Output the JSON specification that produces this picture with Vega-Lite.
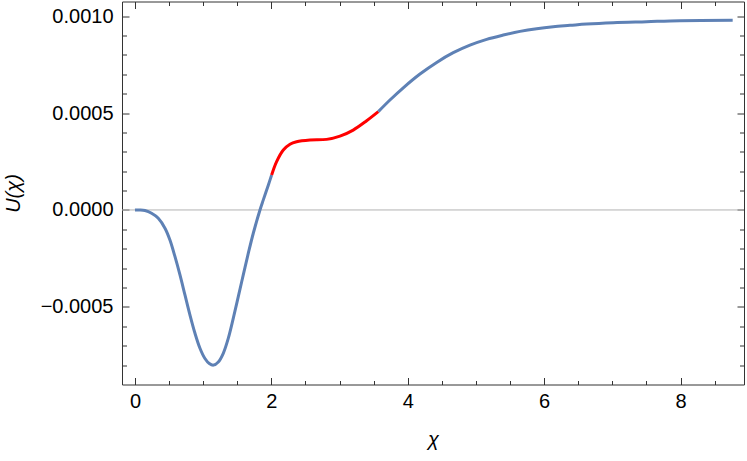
{
  "$schema": "https://vega.github.io/schema/vega-lite/v6.json",
  "width": 622,
  "height": 383,
  "autosize": {"type": "none"},
  "padding": {"left": 122, "top": 1.5, "right": 3, "bottom": 76.5},
  "config": {
    "view": {"stroke": null},
    "font": "Liberation Sans",
    "axis": {
      "grid": false,
      "domainColor": "#333333",
      "domainWidth": 1,
      "tickColor": "#333333",
      "tickWidth": 1,
      "labelColor": "#000000",
      "labelFontSize": 20,
      "labelFont": "Liberation Sans",
      "titleFont": "Liberation Sans",
      "titleFontSize": 20,
      "titleFontWeight": "normal",
      "titleFontStyle": "italic",
      "titleColor": "#000000",
      "labelFlush": false,
      "labelOverlap": false
    }
  },
  "datasets": {
    "curve": [
      {"x": 0, "u": 0, "seg": "a"},
      {"x": 0.07, "u": 0, "seg": "a"},
      {"x": 0.147, "u": -0.000003, "seg": "a"},
      {"x": 0.244, "u": -0.000017, "seg": "a"},
      {"x": 0.342, "u": -0.000043, "seg": "a"},
      {"x": 0.44, "u": -0.000094, "seg": "a"},
      {"x": 0.513, "u": -0.000155, "seg": "a"},
      {"x": 0.587, "u": -0.000241, "seg": "a"},
      {"x": 0.66, "u": -0.000335, "seg": "a"},
      {"x": 0.733, "u": -0.000438, "seg": "a"},
      {"x": 0.806, "u": -0.000541, "seg": "a"},
      {"x": 0.88, "u": -0.000636, "seg": "a"},
      {"x": 0.953, "u": -0.000713, "seg": "a"},
      {"x": 1.026, "u": -0.000766, "seg": "a"},
      {"x": 1.09, "u": -0.000792, "seg": "a"},
      {"x": 1.152, "u": -0.0008, "seg": "a"},
      {"x": 1.222, "u": -0.000784, "seg": "a"},
      {"x": 1.295, "u": -0.000739, "seg": "a"},
      {"x": 1.369, "u": -0.000661, "seg": "a"},
      {"x": 1.442, "u": -0.000558, "seg": "a"},
      {"x": 1.515, "u": -0.000447, "seg": "a"},
      {"x": 1.588, "u": -0.000335, "seg": "a"},
      {"x": 1.662, "u": -0.000223, "seg": "a"},
      {"x": 1.735, "u": -0.00012, "seg": "a"},
      {"x": 1.833, "u": 0, "seg": "a"},
      {"x": 1.882, "u": 0.000052, "seg": "a"},
      {"x": 1.955, "u": 0.000128, "seg": "a"},
      {"x": 2.004, "u": 0.00018, "seg": "a"},
      {"x": 2.004, "u": 0.00018, "seg": "b"},
      {"x": 2.077, "u": 0.000249, "seg": "b"},
      {"x": 2.175, "u": 0.000309, "seg": "b"},
      {"x": 2.273, "u": 0.000339, "seg": "b"},
      {"x": 2.37, "u": 0.000352, "seg": "b"},
      {"x": 2.566, "u": 0.000361, "seg": "b"},
      {"x": 2.81, "u": 0.000364, "seg": "b"},
      {"x": 3.006, "u": 0.000381, "seg": "b"},
      {"x": 3.2, "u": 0.000412, "seg": "b"},
      {"x": 3.397, "u": 0.00046, "seg": "b"},
      {"x": 3.568, "u": 0.000507, "seg": "b"},
      {"x": 3.568, "u": 0.000507, "seg": "c"},
      {"x": 3.739, "u": 0.000567, "seg": "c"},
      {"x": 3.934, "u": 0.00063, "seg": "c"},
      {"x": 4.179, "u": 0.000701, "seg": "c"},
      {"x": 4.424, "u": 0.000761, "seg": "c"},
      {"x": 4.667, "u": 0.000811, "seg": "c"},
      {"x": 4.912, "u": 0.00085, "seg": "c"},
      {"x": 5.157, "u": 0.00088, "seg": "c"},
      {"x": 5.4, "u": 0.000902, "seg": "c"},
      {"x": 5.645, "u": 0.000921, "seg": "c"},
      {"x": 5.89, "u": 0.000935, "seg": "c"},
      {"x": 6.133, "u": 0.000945, "seg": "c"},
      {"x": 6.378, "u": 0.000952, "seg": "c"},
      {"x": 6.623, "u": 0.000959, "seg": "c"},
      {"x": 7.013, "u": 0.000966, "seg": "c"},
      {"x": 7.5, "u": 0.000971, "seg": "c"},
      {"x": 7.991, "u": 0.000976, "seg": "c"},
      {"x": 8.764, "u": 0.000978, "seg": "c"}
    ]
  },
  "resolve": {"axis": {"x": "independent", "y": "independent"}},
  "layer": [
    {
      "data": {"values": [{"zero": 0}]},
      "mark": {"type": "rule", "color": "#b3b3b3", "strokeWidth": 1},
      "encoding": {
        "y": {"field": "zero", "type": "quantitative", "axis": null,
              "scale": {"domain": [-0.0009, 0.001075], "nice": false, "zero": false}}
      }
    },
    {
      "data": {"name": "curve"},
      "mark": {"type": "line", "opacity": 0},
      "encoding": {
        "x": {
          "field": "x", "type": "quantitative",
          "scale": {"domain": [-0.19, 8.93], "nice": false, "zero": false},
          "axis": {
            "orient": "bottom", "domain": false, "labels": false, "title": null,
            "values": [0.5, 1, 1.5, 2.5, 3, 3.5, 4.5, 5, 5.5, 6.5, 7, 7.5, 8.5],
            "tickSize": -4
          }
        },
        "y": {
          "field": "u", "type": "quantitative",
          "scale": {"domain": [-0.0009, 0.001075], "nice": false, "zero": false},
          "axis": {
            "orient": "left", "domain": false, "labels": false, "title": null,
            "values": [-0.0008, -0.0007, -0.0006, -0.0004, -0.0003, -0.0002, -0.0001, 0.0001, 0.0002, 0.0003, 0.0004, 0.0006, 0.0007, 0.0008, 0.0009],
            "tickSize": -4.5
          }
        }
      }
    },
    {
      "data": {"name": "curve"},
      "mark": {"type": "line", "opacity": 0},
      "encoding": {
        "x": {
          "field": "x", "type": "quantitative",
          "scale": {"domain": [-0.19, 8.93], "nice": false, "zero": false},
          "axis": {
            "orient": "top", "domain": false, "labels": false, "title": null,
            "values": [0.5, 1, 1.5, 2.5, 3, 3.5, 4.5, 5, 5.5, 6.5, 7, 7.5, 8.5],
            "tickSize": -4
          }
        },
        "y": {
          "field": "u", "type": "quantitative",
          "scale": {"domain": [-0.0009, 0.001075], "nice": false, "zero": false},
          "axis": {
            "orient": "right", "domain": false, "labels": false, "title": null,
            "values": [-0.0008, -0.0007, -0.0006, -0.0004, -0.0003, -0.0002, -0.0001, 0.0001, 0.0002, 0.0003, 0.0004, 0.0006, 0.0007, 0.0008, 0.0009],
            "tickSize": -4.5
          }
        }
      }
    },
    {
      "data": {"name": "curve"},
      "mark": {"type": "line", "opacity": 0},
      "encoding": {
        "x": {
          "field": "x", "type": "quantitative",
          "scale": {"domain": [-0.19, 8.93], "nice": false, "zero": false},
          "axis": {
            "orient": "top", "labels": false, "title": null,
            "values": [0, 2, 4, 6, 8],
            "tickSize": -7
          }
        },
        "y": {
          "field": "u", "type": "quantitative",
          "scale": {"domain": [-0.0009, 0.001075], "nice": false, "zero": false},
          "axis": {
            "orient": "right", "labels": false, "title": null,
            "values": [-0.0005, 0, 0.0005, 0.001],
            "tickSize": -7
          }
        }
      }
    },
    {
      "data": {"name": "curve"},
      "mark": {"type": "line", "strokeWidth": 3, "interpolate": "catmull-rom", "strokeCap": "butt"},
      "encoding": {
        "x": {
          "field": "x", "type": "quantitative",
          "scale": {"domain": [-0.19, 8.93], "nice": false, "zero": false},
          "axis": {
            "orient": "bottom",
            "values": [0, 2, 4, 6, 8],
            "format": ".0f",
            "tickSize": -7,
            "labelPadding": 14,
            "title": "χ",
            "titleX": 311,
            "titleY": 55,
            "titleBaseline": "middle",
            "titleAlign": "center"
          }
        },
        "y": {
          "field": "u", "type": "quantitative",
          "scale": {"domain": [-0.0009, 0.001075], "nice": false, "zero": false},
          "axis": {
            "orient": "left",
            "values": [-0.0005, 0, 0.0005, 0.001],
            "format": ".4f",
            "tickSize": -7,
            "labelPadding": 16,
            "title": "U(χ)",
            "titleX": -109,
            "titleY": 191.5,
            "titleBaseline": "middle",
            "titleAlign": "center",
            "titleAngle": -90
          }
        },
        "color": {
          "field": "seg", "type": "nominal", "legend": null,
          "scale": {"domain": ["a", "b", "c"], "range": ["#5E81B5", "#FF0000", "#5E81B5"]}
        }
      }
    }
  ]
}
